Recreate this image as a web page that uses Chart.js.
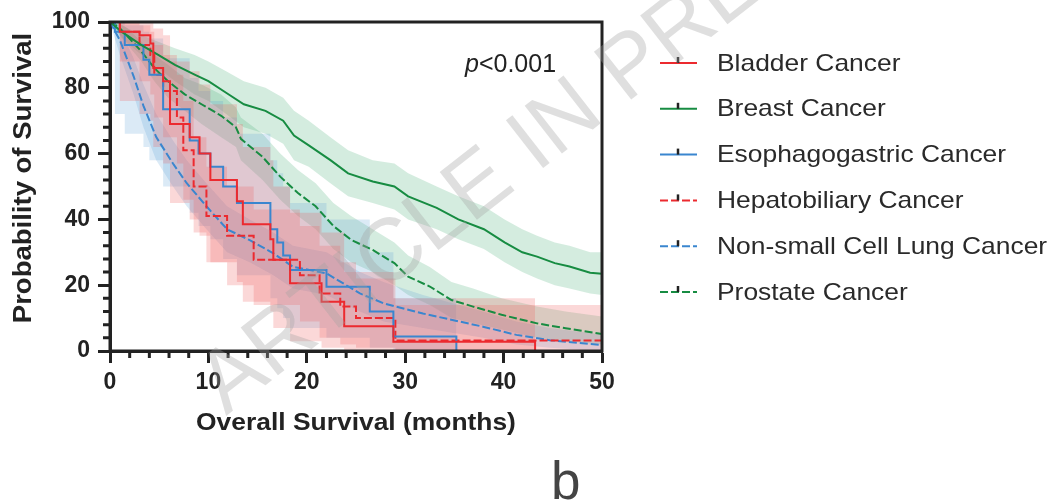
<!DOCTYPE html>
<html>
<head>
<meta charset="utf-8">
<script src="https://cdn.jsdelivr.net/npm/chart.js@4.4.1/dist/chart.umd.min.js"></script>
<style>
  html, body { margin: 0; padding: 0; background: #fff; }
  #wrap { width: 1049px; height: 504px; }
</style>
</head>
<body>
<div id="wrap"><canvas id="km" width="1049" height="504"></canvas></div>
<script>
// Kaplan-Meier curves: time in months, survival in %
const seriesNames = ['Bladder Cancer', 'Breast Cancer', 'Esophagogastric Cancer',
    'Hepatobiliary Cancer', 'Non-small Cell Lung Cancer', 'Prostate Cancer'];

const bladderTime = [0, 1.0, 3.0, 4.1, 4.4, 5.4, 6.1, 8.1, 9.1, 10.2, 12.9, 13.5, 16.3, 16.6, 18.3, 21.5, 23.8, 28.8, 43.2];
const bladderSurv = [100, 97, 96, 93.5, 86, 82, 69, 65, 60, 52, 45.5, 38.5, 34, 27.7, 20.6, 15, 7.5, 2.8, 0];
const bladderLow  = [100, 76, 72, 70, 62, 57, 45, 40, 35, 27, 21, 15, 12, 7, 3, 1, 0, 0, 0];
const bladderHigh = [100, 100, 100, 100, 98, 96, 88, 85, 81, 75, 69, 62, 58, 50, 42, 36, 24, 16, 0];

const breastTime = [0, 1.2, 3.2, 4.9, 6.6, 8.6, 10.0, 11.8, 13.6, 15.8, 17.6, 18.7, 20.2, 22.4, 24.2, 26.7, 28.9, 30.3, 33.2, 35.4, 38.0, 40.1, 41.9, 43.4, 45.2, 46.7, 48.8, 50];
const breastSurv = [100, 97, 93, 90, 87, 84, 82, 78.5, 75, 73, 70, 65.5, 62.5, 58, 54, 51.5, 50, 47, 43.5, 40, 37, 33, 30, 28.7, 26.7, 25.7, 23.8, 23.5];
const breastLow  = [100, 95, 90, 86, 82, 78, 76, 72, 68, 66, 63, 58, 56, 51, 47, 45, 43, 40, 37, 34, 31, 27, 24, 22, 20, 19, 17.5, 17];
const breastHigh = [100, 99, 96, 94, 92, 90, 88, 85, 82, 80, 77, 73, 70, 65, 61, 58, 57, 54, 50, 47, 44, 40, 37, 35, 33, 32, 30, 30];

const esoTime = [0, 0.5, 1.5, 3.4, 4.0, 5.4, 8.1, 9.0, 10.2, 11.5, 12.9, 16.3, 17.0, 17.6, 18.3, 22.0, 26.4, 28.8, 35.2];
const esoSurv = [100, 97, 93, 88.5, 84, 73.5, 64, 60, 56, 50, 45, 37, 33, 29, 24.6, 19.5, 12, 4.4, 0];
const esoLow  = [100, 72, 66, 62, 58, 50, 42, 38, 34, 28, 23, 16, 13, 10, 7, 4, 1, 0, 0];
const esoHigh = [100, 100, 99, 97, 95, 89, 83, 79, 76, 71, 66, 58, 54, 50, 45, 40, 30, 16, 0];

const hepTime = [0, 1.0, 3.0, 4.1, 4.5, 5.4, 6.8, 7.45, 8.5, 9.8, 11.9, 14.6, 19.3, 21.3, 23.4, 25.0, 29.0, 50];
const hepSurv = [100, 97, 93, 90, 84, 79, 71, 61, 50, 41, 35, 27.7, 23, 17.5, 13.5, 10, 3.2, 3.2];
const hepLow  = [100, 88, 82, 78, 71, 65, 57, 46, 36, 27, 20, 14, 9, 4, 2, 1, 0, 0];
const hepHigh = [100, 100, 99, 97, 93, 90, 84, 76, 65, 56, 50, 43, 38, 32, 27, 22, 14, 14];

const nsclcTime = [0, 1.0, 2.4, 3.4, 4.7, 6.4, 7.8, 9.8, 11.9, 14.2, 16.6, 18.6, 22.0, 25.4, 27.8, 31.8, 37.9, 41.3, 44.7, 50];
const nsclcSurv = [100, 94.5, 83.5, 74.5, 65, 57, 51, 44, 37, 33.7, 29.7, 25.6, 23.6, 17.5, 14.5, 11.4, 7.4, 4.9, 3.3, 1.8];
const nsclcLow  = [100, 90, 78, 68, 58, 50, 44, 37, 30, 27, 23, 19, 17, 12, 9, 7, 4, 2, 1, 0];
const nsclcHigh = [100, 98, 89, 81, 72, 64, 58, 51, 44, 40, 36, 32, 30, 24, 21, 17, 12, 9, 7, 5];

const prostateTime = [0, 0.8, 1.8, 3.2, 4.5, 5.9, 7.6, 9.3, 11.3, 12.8, 13.3, 15.5, 17.3, 19.1, 20.9, 22.7, 24.5, 26.7, 28.9, 30.3, 32.5, 34.7, 36.9, 39.8, 43.4, 46.3, 50];
const prostateSurv = [100, 98.7, 95.6, 91, 86, 82, 78, 75, 71.5, 68, 64.5, 59, 53, 48, 44, 38, 33.8, 30.7, 26.7, 22.6, 19.6, 15.5, 13.5, 11, 8.4, 6.9, 5.2];
const prostateLow  = [100, 97, 93, 88, 82, 77, 73, 69, 65, 62, 58, 52, 46, 41, 37, 31, 27, 24, 20, 17, 14, 10, 8.5, 6.5, 4, 3, 2];
const prostateHigh = [100, 100, 98, 94, 90, 87, 83, 81, 78, 74, 71, 66, 60, 55, 51, 45, 41, 37, 33, 29, 25.5, 21, 19, 16, 13.5, 12, 10.5];

const xTickValues = [0, 10, 20, 30, 40, 50];
const yTickValues = [0, 20, 40, 60, 80, 100];

const RED = '#ec2a2f', GREEN = '#178c42', BLUE = '#3a86cf';
const RED_BAND = 'rgba(240,90,90,0.24)';
const GREEN_BAND = 'rgba(60,170,110,0.22)';
const BLUE_BAND = 'rgba(90,160,215,0.22)';
const DASH = [8, 3];
const FONT = "'Liberation Sans', Arial, sans-serif";
const STRETCH = 1.1;   // the original lettering is a bit wider than Arial

// band order: green at the bottom, then blue, red on top
const groups = [
    { name: seriesNames[0], t: bladderTime, s: bladderSurv, lo: bladderLow, hi: bladderHigh, color: RED, band: RED_BAND, dash: [], stepped: 'before', layer: 3 },
    { name: seriesNames[1], t: breastTime, s: breastSurv, lo: breastLow, hi: breastHigh, color: GREEN, band: GREEN_BAND, dash: [], stepped: false, layer: 5 },
    { name: seriesNames[2], t: esoTime, s: esoSurv, lo: esoLow, hi: esoHigh, color: BLUE, band: BLUE_BAND, dash: [], stepped: 'before', layer: 4 },
    { name: seriesNames[3], t: hepTime, s: hepSurv, lo: hepLow, hi: hepHigh, color: RED, band: RED_BAND, dash: DASH, stepped: 'before', layer: 3 },
    { name: seriesNames[4], t: nsclcTime, s: nsclcSurv, lo: nsclcLow, hi: nsclcHigh, color: BLUE, band: BLUE_BAND, dash: DASH, stepped: false, layer: 4 },
    { name: seriesNames[5], t: prostateTime, s: prostateSurv, lo: prostateLow, hi: prostateHigh, color: GREEN, band: GREEN_BAND, dash: DASH, stepped: false, layer: 5 }
];

const datasets = [];
groups.forEach(g => {
    const pts = arr => g.t.map((x, i) => ({ x: x, y: arr[i] }));
    datasets.push({
        label: g.name + ' upper', data: pts(g.hi), stepped: g.stepped,
        borderColor: 'rgba(0,0,0,0)', borderWidth: 0, pointRadius: 0,
        backgroundColor: g.band, fill: '+1', order: g.layer
    });
    datasets.push({
        label: g.name + ' lower', data: pts(g.lo), stepped: g.stepped,
        borderColor: 'rgba(0,0,0,0)', borderWidth: 0, pointRadius: 0,
        fill: false, order: g.layer
    });
    datasets.push({
        label: g.name, data: pts(g.s), stepped: g.stepped,
        borderColor: g.color, borderWidth: 2, borderDash: g.dash,
        pointRadius: 0, fill: false, order: 1
    });
});

function stretchedText(ctx, text, x, y, angle) {
    ctx.save();
    ctx.translate(x, y);
    if (angle) ctx.rotate(angle);
    ctx.scale(STRETCH, 1);
    ctx.fillText(text, 0, 0);
    ctx.restore();
}

// box frame, minor ticks and axis titles
const framePlugin = {
    id: 'frame',
    afterDraw(chart) {
        const ctx = chart.ctx;
        const a = chart.chartArea;
        const xs = chart.scales.x, ys = chart.scales.y;
        ctx.save();
        ctx.strokeStyle = '#222';
        ctx.lineWidth = 3;
        ctx.strokeRect(a.left, a.top, a.right - a.left, a.bottom - a.top);
        ctx.beginPath();
        for (let v = 0; v <= 50; v += 2) {
            if (xTickValues.includes(v)) continue;
            const px = xs.getPixelForValue(v);
            ctx.moveTo(px, a.bottom);
            ctx.lineTo(px, a.bottom + 7);
        }
        for (let v = 0; v <= 100; v += 4) {
            if (yTickValues.includes(v)) continue;
            const py = ys.getPixelForValue(v);
            ctx.moveTo(a.left, py);
            ctx.lineTo(a.left - 7, py);
        }
        ctx.stroke();

        ctx.fillStyle = '#222';
        ctx.textAlign = 'center';
        ctx.textBaseline = 'middle';
        ctx.font = 'bold 24px ' + FONT;
        stretchedText(ctx, 'Overall Survival (months)', (a.left + a.right) / 2, 423, 0);
        ctx.font = 'bold 25px ' + FONT;
        stretchedText(ctx, 'Probability of Survival', 24, 178, -Math.PI / 2);
        ctx.restore();
    }
};

// p value, legend, panel letter, watermark
const annotationPlugin = {
    id: 'annotations',
    afterDraw(chart) {
        const ctx = chart.ctx;
        ctx.save();
        ctx.fillStyle = '#222';
        ctx.textBaseline = 'alphabetic';
        ctx.font = 'italic 25px ' + FONT;
        ctx.fillText('p', 465, 72);
        const pw = ctx.measureText('p').width;
        ctx.font = '25px ' + FONT;
        ctx.fillText('<0.001', 465 + pw, 72);

        // legend
        const rowY = 63, rowGap = 45.8;
        groups.forEach((g, i) => {
            const y = rowY + i * rowGap;
            ctx.strokeStyle = g.color;
            ctx.lineWidth = 2;
            ctx.setLineDash(g.dash);
            ctx.beginPath();
            ctx.moveTo(660, y);
            ctx.lineTo(697, y);
            ctx.stroke();
            ctx.setLineDash([]);
            ctx.strokeStyle = '#222';
            ctx.lineWidth = 2.5;
            ctx.beginPath();
            ctx.moveTo(678, y);
            ctx.lineTo(678, y - 6);
            ctx.stroke();
            ctx.fillStyle = '#2a2a2a';
            ctx.font = '24px ' + FONT;
            ctx.textAlign = 'left';
            ctx.textBaseline = 'middle';
            stretchedText(ctx, g.name, 717, y + 1, 0);
        });

        ctx.textBaseline = 'alphabetic';
        ctx.fillStyle = '#444';
        ctx.font = '53px ' + FONT;
        ctx.fillText('b', 551, 499);

        ctx.translate(226, 416);
        ctx.rotate(-38 * Math.PI / 180);
        ctx.font = '88px ' + FONT;
        ctx.fillStyle = 'rgba(160,160,160,0.34)';
        ctx.fillText('ARTICLE IN PRESS', 0, 0);
        ctx.restore();
    }
};

new Chart(document.getElementById('km'), {
    type: 'line',
    data: { datasets: datasets },
    options: {
        responsive: false,
        animation: false,
        layout: { padding: { left: 0, top: 22, right: 447, bottom: 0 } },
        plugins: {
            legend: { display: false },
            tooltip: { enabled: false }
        },
        scales: {
            x: {
                type: 'linear', min: 0, max: 50,
                afterFit: scale => { scale.height = 153; },
                afterBuildTicks: scale => { scale.ticks = xTickValues.map(v => ({ value: v })); },
                ticks: { padding: 6, color: '#222', font: { family: FONT, size: 23, weight: 'bold' } },
                grid: { drawOnChartArea: false, drawTicks: true, tickLength: 12, tickWidth: 3, tickColor: '#222' },
                border: { display: true, width: 3, color: '#222' }
            },
            y: {
                type: 'linear', min: 0, max: 100,
                afterFit: scale => { scale.width = 110; },
                afterBuildTicks: scale => { scale.ticks = yTickValues.map(v => ({ value: v })); },
                ticks: { padding: 8, color: '#222', font: { family: FONT, size: 23, weight: 'bold' } },
                grid: { drawOnChartArea: false, drawTicks: true, tickLength: 12, tickWidth: 3, tickColor: '#222' },
                border: { display: true, width: 3, color: '#222' }
            }
        }
    },
    plugins: [framePlugin, annotationPlugin]
});
</script>
</body>
</html>
